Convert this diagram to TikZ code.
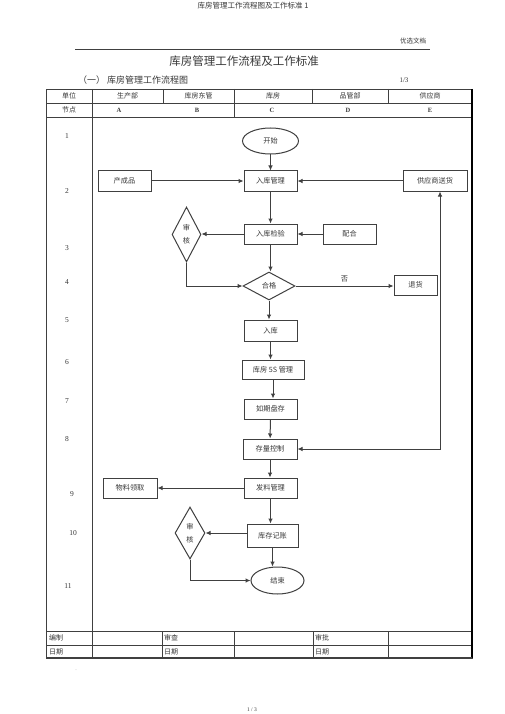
\documentclass[tikz,border=0pt]{standalone}
\usepackage{fontspec}
\setmainfont{Noto Sans CJK SC}
\newfontfamily\serif{Liberation Serif}
\usetikzlibrary{shapes.geometric,arrows.meta,calc}
\definecolor{ink}{HTML}{383838}
\definecolor{lin}{HTML}{404040}
\begin{document}
\begin{tikzpicture}[x=1pt,y=-1pt,
  every node/.style={text=ink,inner sep=0pt},
  small/.style={font=\fontsize{7.2}{8}\selectfont},
  box/.style={draw=lin,line width=1pt,rectangle,minimum height=20pt,minimum width=53pt,small},
  oval/.style={draw=lin,line width=1pt,ellipse,minimum width=56pt,minimum height=26pt,small},
  dia/.style={draw=lin,line width=1pt,diamond,aspect=0.53,small},
  arr/.style={draw=lin,line width=1pt,-{Latex[length=5pt,width=4.6pt]}},
  arrb/.style={draw=lin,line width=1pt,{Latex[length=5pt,width=4.6pt]}-{Latex[length=5pt,width=4.6pt]}},
  tab/.style={draw=lin,line width=0.8pt},
  num/.style={font=\serif\fontsize{7.5}{8}\selectfont},
  hdr/.style={font=\fontsize{7}{8}\selectfont},
  ltr/.style={font=\serif\bfseries\fontsize{6.5}{7}\selectfont}
]
\useasboundingbox[fill=white] (0,0) rectangle (505,714);

% page header
\node[font=\fontsize{7.5}{8}\selectfont] (pagehead) at (253,6) {库房管理工作流程图及工作标准 1};
\node[font=\fontsize{6.5}{7}\selectfont] (youxuan) at (413,41) {优选文档};
\draw[lin,line width=0.6pt] (75,49) -- (430,49);
\node[font=\fontsize{11.5}{12}\selectfont] (title) at (244,61) {库房管理工作流程及工作标准};
\node[font=\fontsize{9}{10}\selectfont,anchor=west] (sub) at (78,80) {（一） 库房管理工作流程图};
\node[font=\serif\fontsize{7}{8}\selectfont] (pg) at (404,80) {1/3};

% table
\draw[tab] (46,89) rectangle (472,658);
\draw[tab] (46,103) -- (472,103);
\draw[tab] (46,117) -- (472,117);
\draw[tab] (46,631) -- (472,631);
\draw[tab] (46,645) -- (472,645);
\draw[tab] (92,89) -- (92,658);
\foreach \xx in {163,234,312,388} \draw[tab] (\xx,89) -- (\xx,103);
\draw[tab] (234,103) -- (234,117);
\foreach \xx in {162,234,313,388} \draw[tab] (\xx,631) -- (\xx,658);
\draw[black,line width=1.5pt] (472,89) -- (472,658);
\draw[lin,line width=1.2pt] (46,658) -- (472,658);

\node[hdr] (h1) at (69,96) {单位};
\node[hdr] (h2) at (127.5,96) {生产部};
\node[hdr] (h3) at (198.5,96) {库房东管};
\node[hdr] (h4) at (273,96) {库房};
\node[hdr] (h5) at (350,96) {品管部};
\node[hdr] (h6) at (430,96) {供应商};
\node[hdr] (r1) at (69,110) {节点};
\node[ltr] (la) at (119,110) {A};
\node[ltr] (lb) at (197,110) {B};
\node[ltr] (lc) at (272,110) {C};
\node[ltr] (ld) at (348,110) {D};
\node[ltr] (le) at (430,110) {E};

\node[num] (n1) at (67,136) {1};
\node[num] (n2) at (67,191) {2};
\node[num] (n3) at (67,248) {3};
\node[num] (n4) at (67,282) {4};
\node[num] (n5) at (67,320) {5};
\node[num] (n6) at (67,362) {6};
\node[num] (n7) at (67,401) {7};
\node[num] (n8) at (67,439) {8};
\node[num] (n9) at (72,494) {9};
\node[num] (n10) at (73,533) {10};
\node[num] (n11) at (68,586) {11};

\node[hdr,anchor=west] (b1) at (49,638) {编制};
\node[hdr,anchor=west] (b2) at (49,651.5) {日期};
\node[hdr,anchor=west] (b3) at (164,638) {审查};
\node[hdr,anchor=west] (b4) at (164,651.5) {日期};
\node[hdr,anchor=west] (b5) at (315,638) {审批};
\node[hdr,anchor=west] (b6) at (315,651.5) {日期};

% flow nodes
\node[oval] (start) at (270.5,141) {开始};
\node[box] (rkgl) at (270.5,181) {入库管理};
\node[box] (ccp) at (124.5,181) {产成品};
\node[box,minimum width=64pt] (gys) at (435,181) {供应商送货};
\node[box] (rkjy) at (270.5,234) {入库检验};
\node[box] (ph) at (349.5,234) {配合};
\node[dia,minimum width=29pt,minimum height=55pt] (sh1) at (186.5,234.5) {\shortstack{审\\[3pt]核}};
\node[dia,aspect=1.86,minimum width=52pt,minimum height=28pt] (hg) at (269,286) {合格};
\node[box,minimum width=43pt] (th) at (415.5,285) {退货};
\node[box,minimum height=21pt] (rk) at (270.5,330.5) {入库};
\node[box,minimum width=62pt,minimum height=19pt] (kf) at (273,369.5) {库房 5S 管理};
\node[box] (rqpc) at (270.5,409) {如期盘存};
\node[box,minimum width=54pt] (clkz) at (270,449) {存量控制};
\node[box] (flgl) at (270.5,488) {发料管理};
\node[box,minimum width=54pt] (wllq) at (130,488) {物料领取};
\node[dia,minimum width=30pt,minimum height=52pt] (sh2) at (190,533) {\shortstack{审\\[3pt]核}};
\node[box,minimum width=51pt,minimum height=23pt] (kcjz) at (272.5,535.5) {库存记账};
\node[oval,minimum width=53pt,minimum height=27pt] (js) at (277.5,580.5) {结束};

% connectors
\draw[arr] (start) -- (rkgl);
\draw[arr] (ccp) -- (rkgl);
\draw[arr] (gys) -- (rkgl);
\draw[arr] (rkgl) -- (rkjy);
\draw[arr] (ph) -- (rkjy);
\draw[arr] (rkjy.west) -- (rkjy.west -| sh1.east);
\draw[arr] (sh1.south) |- (hg.west);
\draw[arr] (rkjy) -- (rkjy.south |- hg.north);
\draw[arr] (hg.east) -- node[above=3pt,small] (fou) {否} (hg.east -| th.west);
\draw[arr] (hg.south) -- (hg.south |- rk.north);
\draw[arr] (rk.south) -- (rk.south |- kf.north);
\draw[arr] (kf.south) -- (kf.south |- rqpc.north);
\draw[arr] (rqpc) -- (clkz);
\draw[arr] (clkz) -- (clkz.south |- flgl.north);
\draw[arrb] (clkz.east) -| ([xshift=5pt]gys.south);
\draw[arr] (flgl) -- (wllq);
\draw[arr] (flgl.south) -- (flgl.south |- kcjz.north);
\draw[arr] (kcjz.west |- sh2.east) -- (sh2.east);
\draw[arr] (sh2.south) |- (js.west);
\draw[arr] (kcjz.south) -- (kcjz.south |- js.north);

% footer
\node[font=\serif\fontsize{4}{5}\selectfont] (dot) at (76,670) {.};
\node[font=\serif\fontsize{5.5}{6}\selectfont] (foot) at (252,710) {1 / 3};
\end{tikzpicture}
\end{document}
